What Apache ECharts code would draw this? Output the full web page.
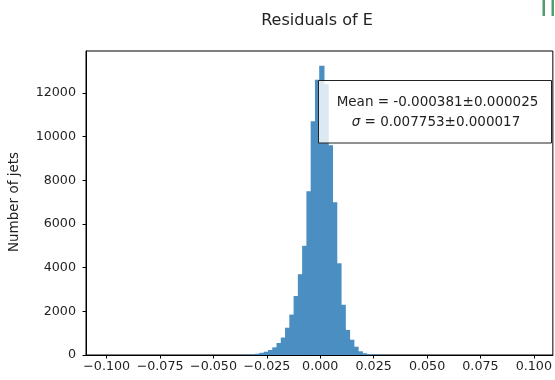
<!DOCTYPE html>
<html>
<head>
<meta charset="utf-8">
<script src="https://cdn.jsdelivr.net/npm/echarts@6/dist/echarts.min.js"></script>
<style>html,body{margin:0;padding:0;background:#fff;}#c{width:555px;height:380px;}</style>
</head>
<body>
<div id="c"></div>
<script>
// Histogram bin edges (x values)
const binEdges = [-0.0365,-0.0345,-0.0325,-0.0305,-0.0285,-0.0265,-0.0245,-0.0225,-0.0205,-0.0185,-0.0165,-0.0145,-0.0125,-0.0105,-0.0085,-0.0065,-0.0045,-0.0025,-0.0005,0.0015,0.0035,0.0055,0.0075,0.0095,0.0115,0.0135,0.0155,0.0175,0.0195,0.0215,0.0235,0.0255,0.0275,0.0295];
// Counts per bin
const counts = [10,20,35,60,100,150,230,350,550,800,1250,1850,2700,3700,5000,7500,10700,12600,13250,12400,9600,7000,4200,2300,1150,700,380,170,80,45,25,15,8];
// Tick labels
const xTicks = [-0.100,-0.075,-0.050,-0.025,0.000,0.025,0.050,0.075,0.100];
const yTicks = [0,2000,4000,6000,8000,10000,12000];
const titleText = 'Residuals of E';
const yName = 'Number of jets';
const meanText = 'Mean = -0.000381\u00b10.000025';
const sigmaText = ' = 0.007753\u00b10.000017';

const histData = counts.map((c, i) => [binEdges[i], binEdges[i + 1], c]);
const FONT = 'DejaVu Sans';
const chart = echarts.init(document.getElementById('c'), null, {renderer: 'canvas'});
chart.setOption({
  animation: false,
  backgroundColor: '#fff',
  grid: {left: 86, right: 1, top: 51, bottom: 25, show: true, borderColor: '#000', borderWidth: 1, backgroundColor: 'transparent'},
  title: {text: titleText, left: 312, top: 8, textAlign: 'center',
    textStyle: {fontFamily: FONT, fontSize: 16, fontWeight: 'normal', color: '#222'}},
  xAxis: {
    type: 'value', min: -0.1097, max: 0.1089,
    splitLine: {show: false},
    axisLine: {show: true, onZero: false, lineStyle: {color: '#000', width: 1}},
    axisTick: {show: true, length: 3.5, customValues: xTicks, lineStyle: {color: '#000'}},
    axisLabel: {customValues: xTicks, margin: 5, fontFamily: FONT, fontSize: 12.7, color: '#222',
      formatter: v => (v < 0 ? '\u2212' : '') + Math.abs(v).toFixed(3)}
  },
  yAxis: {
    type: 'value', min: 0, max: 13920,
    splitLine: {show: false},
    axisLine: {show: true, onZero: false, lineStyle: {color: '#000', width: 1}},
    axisTick: {show: true, length: 3.5, customValues: yTicks, lineStyle: {color: '#000'}},
    axisLabel: {customValues: yTicks, margin: 10, fontFamily: FONT, fontSize: 12.7, color: '#222',
      formatter: v => String(Math.round(v))}
  },
  series: [{
    type: 'custom',
    data: histData,
    encode: {x: [0, 1], y: 2},
    renderItem: function (params, api) {
      const p0 = api.coord([api.value(0), api.value(2)]);
      const p1 = api.coord([api.value(1), 0]);
      return {type: 'rect', shape: {x: p0[0], y: p0[1], width: p1[0] - p0[0] + 1, height: p1[1] - p0[1]},
        style: {fill: '#4b8fc2'}};
    }
  }],
  graphic: [
    {type: 'text', x: 14, y: 202, rotation: Math.PI / 2,
      style: {text: yName, fontFamily: FONT, fontSize: 13.5, fill: '#222', align: 'center', verticalAlign: 'middle'}},
    {type: 'rect', z: 100, shape: {x: 318.5, y: 80.5, width: 233, height: 62.5},
      style: {fill: 'rgba(255,255,255,0.8)', stroke: '#222', lineWidth: 1}},
    {type: 'text', z: 101, x: 437.5, y: 102,
      style: {text: meanText, fontFamily: FONT, fontSize: 13.5, fill: '#222', align: 'center', verticalAlign: 'middle'}},
    {type: 'text', z: 101, x: 436, y: 122,
      style: {text: '{i|\u03c3}' + sigmaText, fontFamily: FONT, fontSize: 13.5, fill: '#222', align: 'center', verticalAlign: 'middle',
        rich: {i: {fontFamily: FONT, fontStyle: 'italic', fontSize: 13.5, fill: '#222'}}}},
    {type: 'rect', shape: {x: 542.5, y: 0, width: 2.5, height: 16}, style: {fill: '#4f9e6c'}},
    {type: 'rect', shape: {x: 551.5, y: 0, width: 2.5, height: 16}, style: {fill: '#4f9e6c'}}
  ]
});
</script>
</body>
</html>
